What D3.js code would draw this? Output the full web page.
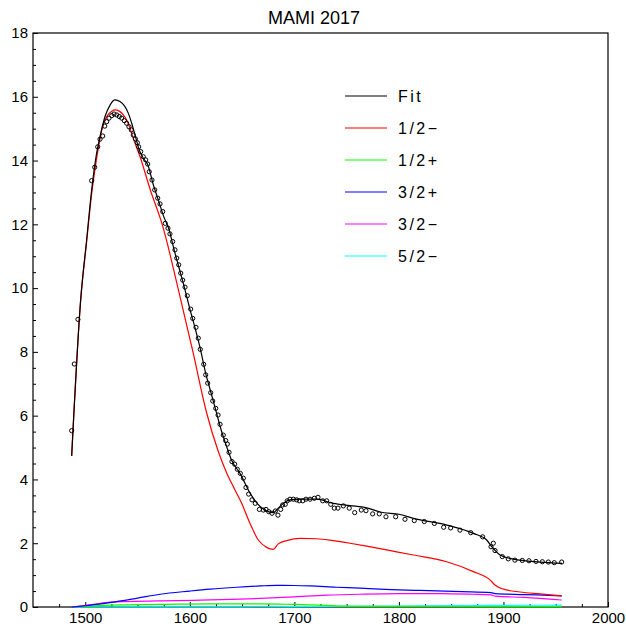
<!DOCTYPE html>
<html>
<head>
<meta charset="utf-8">
<script src="https://cdn.jsdelivr.net/npm/d3@7"></script>
<style>
  html, body { margin: 0; padding: 0; background: #fff; }
  svg { display: block; }
  text { font-family: "Liberation Sans", Arial, sans-serif; fill: #000; }
</style>
</head>
<body>
<svg id="chart" width="626" height="628"></svg>
<script>
// Measured cross section (energy in MeV, value)
const dataE = [1487.0,1489.5,1493.0,1506.1,1509.0,1511.9,1514.1,1516.7,1518.6,1520.5,1522.7,1525.3,1527.5,1530.1,1532.5,1534.8,1537.3,1539.6,1541.8,1544.0,1545.9,1547.9,1549.8,1551.1,1553.0,1555.5,1557.8,1559.7,1561.2,1563.8,1566.4,1569.3,1571.5,1574.1,1576.5,1579.1,1581.0,1583.6,1585.8,1587.5,1589.4,1591.3,1593.2,1595.4,1597.6,1600.8,1602.8,1605.9,1608.1,1610.0,1613.3,1615.2,1617.1,1620.0,1621.9,1624.8,1627.0,1628.9,1632.0,1634.3,1635.9,1637.5,1640.3,1642.9,1645.4,1648.3,1651.2,1653.7,1656.3,1659.5,1662.6,1666.5,1670.3,1672.9,1675.5,1678.6,1681.8,1684.3,1686.9,1688.8,1691.3,1693.2,1695.8,1699.0,1702.2,1704.7,1708.0,1711.1,1715.0,1719.1,1722.6,1727.1,1730.9,1734.8,1738.2,1741.7,1746.8,1752.5,1757.7,1764.0,1768.5,1774.9,1781.2,1787.6,1796.9,1805.8,1814.7,1824.3,1833.9,1842.8,1849.5,1858.4,1868.7,1880.1,1888.1,1890.3,1891.9,1898.9,1904.6,1911.0,1918.0,1924.4,1931.1,1937.2,1942.9,1948.6,1955.7];
const dataY = [5.53,7.62,9.02,13.37,13.79,14.43,14.67,14.77,15.08,15.22,15.33,15.41,15.46,15.43,15.38,15.33,15.25,15.17,15.06,14.96,14.80,14.68,14.56,14.43,14.28,14.12,14.02,13.89,13.65,13.39,13.08,12.82,12.64,12.40,12.03,11.88,11.70,11.46,11.20,10.94,10.73,10.47,10.25,10.03,9.76,9.34,9.05,8.77,8.43,8.08,7.61,7.28,7.02,6.72,6.46,6.23,6.02,5.73,5.39,5.22,5.11,4.85,4.56,4.48,4.32,4.19,4.04,3.75,3.54,3.36,3.25,3.06,3.04,3.06,2.99,2.94,3.01,2.88,3.06,3.20,3.22,3.33,3.38,3.38,3.36,3.33,3.33,3.38,3.38,3.41,3.44,3.33,3.33,3.22,3.10,3.10,3.17,3.10,2.96,3.04,3.02,2.92,2.92,2.83,2.83,2.75,2.71,2.68,2.62,2.50,2.48,2.41,2.33,2.20,1.89,2.00,1.77,1.58,1.51,1.47,1.46,1.45,1.43,1.42,1.41,1.39,1.41];

// Total fit
const fitE = [1487,1495.6,1501.3,1506.1,1510.3,1514.1,1518.9,1523.7,1528.4,1533.2,1538,1541.2,1544.4,1547.6,1552,1556,1560,1565,1570,1575,1580,1585,1590,1595,1600,1605,1610,1615,1620,1625,1630,1635,1640,1648,1657.6,1667.2,1675,1680,1684.6,1689.4,1695.8,1705.4,1721.4,1737.2,1753.2,1769.2,1781.9,1801.1,1813.8,1845.7,1871.2,1884,1888.8,1896.7,1909.5,1935,1956];
const fitY = [4.74,9.63,11.51,13.08,14.12,14.75,15.38,15.74,15.90,15.85,15.69,15.48,15.17,14.80,14.30,14.05,13.85,13.25,12.75,12.25,11.85,11.20,10.60,10.00,9.35,8.75,8.10,7.35,6.75,6.15,5.55,5.05,4.60,4.19,3.57,3.15,2.99,2.96,3.10,3.25,3.36,3.38,3.38,3.25,3.18,3.11,2.98,2.90,2.78,2.57,2.31,2.10,1.89,1.63,1.50,1.41,1.37];

// Partial waves
const s11E = [1487,1495.6,1501.3,1506.1,1510.3,1512.5,1515.7,1520.5,1525.3,1528.4,1532.5,1536.4,1539.6,1542.8,1547.6,1552.4,1562,1574,1588.7,1603,1616,1627,1636,1642,1649.6,1657.6,1665.5,1673.5,1679.9,1684.6,1692.7,1705.4,1721.4,1737.2,1753.2,1769.2,1788.3,1813.8,1845.7,1871.2,1887.1,1891.9,1899.9,1915.8,1935,1955.7];
const s11Y = [4.74,9.63,11.45,12.95,13.95,14.40,14.95,15.38,15.55,15.59,15.55,15.43,15.27,15.01,14.54,14.12,13.10,11.95,10.00,8.00,6.10,4.90,4.15,3.75,3.25,2.62,2.10,1.87,1.81,1.98,2.08,2.15,2.14,2.08,2.00,1.91,1.79,1.63,1.42,1.11,0.85,0.69,0.56,0.47,0.41,0.35];

const p11E = [1487,1523.6,1571.5,1619.3,1667.2,1699,1730,1746.8,1780,1850,1900,1955.7];
const p11Y = [0,0.06,0.08,0.10,0.10,0.08,0.05,0.03,0.02,0.015,0.01,0.01];

const p13E = [1487,1500,1523.6,1550,1571.5,1600,1619.3,1645,1667.2,1683.1,1700,1715,1740,1762.8,1781.9,1820,1860,1888,1892,1920,1955.7];
const p13Y = [0,0.04,0.14,0.28,0.40,0.50,0.56,0.62,0.66,0.68,0.675,0.66,0.62,0.59,0.56,0.52,0.48,0.45,0.42,0.39,0.35];

const d13E = [1487,1507.7,1523.6,1539.6,1570,1603.3,1640,1667.2,1700,1731,1762.8,1800,1840,1870,1888,1892,1920,1955.7];
const d13Y = [0,0.08,0.15,0.17,0.19,0.21,0.24,0.27,0.32,0.37,0.40,0.42,0.42,0.40,0.38,0.34,0.30,0.22];

const d15E = [1487,1600,1700,1750,1800,1850,1900,1955.7];
const d15Y = [0,0.005,0.01,0.02,0.03,0.04,0.05,0.06];

const xMajor = [1500,1600,1700,1800,1900,2000];
const yMajor = [0,2,4,6,8,10,12,14,16,18];
const legendLabels = ["Fit","1/2\u2212","1/2+","3/2+","3/2\u2212","5/2\u2212"];
const legendColors = ["#000000","#ff0000","#00ff00","#0000ff","#ff00ff","#00ffff"];

const svg = d3.select("#chart");
const frame = { left: 33, right: 608, top: 33, bottom: 607 };

const x = d3.scaleLinear().domain([1450, 2000]).range([frame.left, frame.right]);
const y = d3.scaleLinear().domain([0, 18]).range([frame.bottom, frame.top]);

// Title
svg.append("text")
  .attr("x", 314).attr("y", 24)
  .attr("text-anchor", "middle")
  .style("font-size", "18px")
  .text("MAMI 2017");

// Minor ticks
const xMinor = d3.range(1475, 2000, 25).filter(v => v % 100 !== 0);
const yMinor = d3.range(0.5, 18, 0.5).filter(v => v % 2 !== 0);

svg.append("g").attr("transform", `translate(0,${frame.bottom})`)
  .call(d3.axisBottom(x).tickValues(xMinor).tickSizeInner(-3).tickSizeOuter(0).tickFormat(""))
  .call(g => g.select(".domain").remove());
svg.append("g").attr("transform", `translate(${frame.left},0)`)
  .call(d3.axisLeft(y).tickValues(yMinor).tickSizeInner(-3).tickSizeOuter(0).tickFormat(""))
  .call(g => g.select(".domain").remove());

// Major ticks with labels
svg.append("g").attr("transform", `translate(0,${frame.bottom})`)
  .call(d3.axisBottom(x).tickValues(xMajor).tickSizeInner(-5).tickSizeOuter(0).tickPadding(5).tickFormat(d3.format("d")))
  .call(g => g.select(".domain").remove())
  .call(g => g.selectAll("text").style("font-size", "15px").style("font-family", "'Liberation Sans', Arial, sans-serif"));
svg.append("g").attr("transform", `translate(${frame.left},0)`)
  .call(d3.axisLeft(y).tickValues(yMajor).tickSizeInner(-5).tickSizeOuter(0).tickPadding(5).tickFormat(d3.format("d")))
  .call(g => g.select(".domain").remove())
  .call(g => g.selectAll("text").style("font-size", "15px").style("font-family", "'Liberation Sans', Arial, sans-serif"));

// Frame
svg.append("rect")
  .attr("x", frame.left).attr("y", frame.top)
  .attr("width", frame.right - frame.left).attr("height", frame.bottom - frame.top)
  .attr("fill", "none").attr("stroke", "#000").attr("stroke-width", 1.2);

const line = d3.line()
  .x(d => x(d[0])).y(d => y(d[1]))
  .curve(d3.curveMonotoneX);

const curves = [
  [d15E, d15Y, "#00ffff"],
  [p11E, p11Y, "#00ff00"],
  [d13E, d13Y, "#ff00ff"],
  [p13E, p13Y, "#0000ff"],
  [s11E, s11Y, "#ff0000"],
  [fitE, fitY, "#000000"]
];
curves.forEach(([es, vs, color]) => {
  svg.append("path")
    .datum(d3.zip(es, vs))
    .attr("d", line)
    .attr("fill", "none")
    .attr("stroke", color)
    .attr("stroke-width", 1.2);
});

// Data points
svg.append("g").selectAll("circle")
  .data(d3.zip(dataE, dataY))
  .join("circle")
  .attr("cx", d => x(d[0])).attr("cy", d => y(d[1]))
  .attr("r", 2.1)
  .attr("fill", "none").attr("stroke", "#000").attr("stroke-width", 1);

// Legend
const legend = svg.append("g");
legendLabels.forEach((lab, i) => {
  const ly = 96 + i * 32;
  legend.append("line")
    .attr("x1", 345).attr("x2", 387).attr("y1", ly).attr("y2", ly)
    .attr("stroke", legendColors[i]).attr("stroke-width", 1.2);
  legend.append("text")
    .attr("x", 398).attr("y", ly + 6)
    .style("font-size", "16px")
    .style("letter-spacing", "2.5px")
    .text(lab);
});
</script>
</body>
</html>
